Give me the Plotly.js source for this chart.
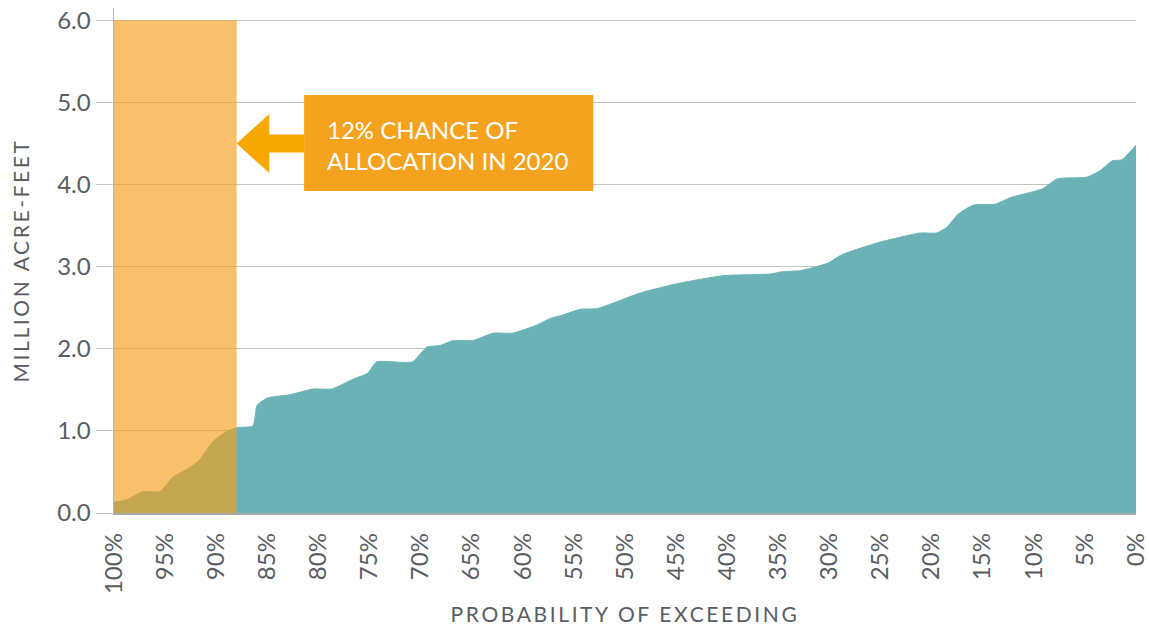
<!DOCTYPE html>
<html>
<head>
<meta charset="utf-8">
<script src="https://cdn.plot.ly/plotly-3.0.1.min.js"></script>
<style>
  body { margin: 0; background: #fff; }
  #chart { width: 1149px; height: 626px; }
  .xtitle, .ytitle { letter-spacing: 2.6px; }
</style>
</head>
<body>
<div id="chart"></div>
<script>
// probability of exceeding (%) and supply in million acre-feet
const pct = [100, 98.8, 97.2, 95.5, 94.2, 92.6, 91.6, 90.3, 88.9, 87.9, 86.4, 86.0, 85.0, 82.8, 80.5, 78.7,
  76.6, 75.2, 74.3, 70.8, 69.4, 68.1, 66.8, 64.9, 62.9, 61.0, 58.6, 57.3, 56.1, 54.4, 52.7, 48.5, 44.6,
  40.4, 35.8, 34.5, 32.9, 30.2, 28.7, 25.0, 21.1, 19.5, 18.5, 17.4, 15.9, 13.8, 12.3, 9.1, 7.7, 4.8,
  3.5, 2.3, 1.4, 0];
const maf = [0.13, 0.16, 0.26, 0.26, 0.44, 0.55, 0.65, 0.87, 1.0, 1.04, 1.06, 1.31, 1.40, 1.44, 1.51, 1.51,
  1.63, 1.70, 1.84, 1.84, 2.02, 2.04, 2.10, 2.10, 2.19, 2.19, 2.29, 2.37, 2.41, 2.48, 2.49, 2.68, 2.80,
  2.89, 2.91, 2.94, 2.95, 3.04, 3.15, 3.30, 3.41, 3.41, 3.48, 3.64, 3.75, 3.76, 3.84, 3.95, 4.07, 4.09,
  4.17, 4.29, 4.30, 4.48];

const xTicks = [100, 95, 90, 85, 80, 75, 70, 65, 60, 55, 50, 45, 40, 35, 30, 25, 20, 15, 10, 5, 0];
const yTicks = [0, 1, 2, 3, 4, 5, 6];

// highlighted band and call-out
const band = { from: 100, to: 88, top: 6 };
const calloutText = ["12% CHANCE OF", "ALLOCATION IN 2020"];

const textGray = "#5b5c5f";
const gridGray = "#c4c4c4";

const area = {
  x: pct,
  y: maf,
  type: "scatter",
  mode: "lines",
  fill: "tozeroy",
  fillcolor: "#6ab2b6",
  line: { color: "#6ab2b6", width: 1, shape: "spline", smoothing: 0.5 },
  hoverinfo: "skip",
};

const layout = {
  width: 1149,
  height: 626,
  margin: { l: 114, r: 13, t: 8, b: 113 },
  paper_bgcolor: "#fff",
  plot_bgcolor: "#fff",
  showlegend: false,
  font: { family: "Lato, 'Open Sans', sans-serif", color: textGray },
  xaxis: {
    range: [100, 0],
    tickvals: xTicks,
    ticktext: xTicks.map((v) => v + "%"),
    tickangle: -90,
    tickfont: { size: 24, color: textGray },
    ticks: "",
    ticklabelstandoff: 9,
    showgrid: false,
    zeroline: false,
    showline: true,
    linecolor: "#a9a9a9",
    linewidth: 1.5,
    title: { text: "PROBABILITY OF EXCEEDING", font: { size: 21, color: textGray }, standoff: 14 },
  },
  yaxis: {
    range: [0, 6.15],
    tickvals: yTicks,
    ticktext: yTicks.map((v) => v.toFixed(1)),
    tickfont: { size: 24, color: textGray },
    ticks: "outside",
    ticklen: 17,
    tickcolor: gridGray,
    showgrid: true,
    gridcolor: gridGray,
    gridwidth: 1.2,
    zeroline: false,
    showline: true,
    linecolor: "#b5b5b5",
    linewidth: 1.5,
    title: { text: "MILLION ACRE-FEET", font: { size: 21, color: textGray }, standoff: 22 },
  },
  shapes: [
    {
      type: "rect", xref: "x", yref: "y", layer: "above",
      x0: band.from, x1: band.to, y0: 0, y1: band.top,
      fillcolor: "#f49e1a", opacity: 0.65, line: { width: 0 },
    },
    {
      // arrow pointing at the band
      type: "path", xref: "x", yref: "y", layer: "above",
      path: "M 88 4.5 L 84.8 4.86 L 84.8 4.61 L 81.4 4.61 L 81.4 4.39 L 84.8 4.39 L 84.8 4.14 Z",
      fillcolor: "#f7a800", line: { width: 0 },
    },
    {
      type: "rect", xref: "x", yref: "y", layer: "above",
      x0: 81.4, x1: 53.1, y0: 3.92, y1: 5.09,
      fillcolor: "#f5a21f", line: { width: 0 },
    },
  ],
  annotations: [
    {
      xref: "x", yref: "y", x: 79.4, y: 4.48,
      xanchor: "left", yanchor: "middle", align: "left",
      text: calloutText.join("<br>"),
      showarrow: false,
      font: { size: 24, color: "#fff" },
    },
  ],
};

Plotly.newPlot("chart", [area], layout, { displayModeBar: false, staticPlot: true });
</script>
</body>
</html>
